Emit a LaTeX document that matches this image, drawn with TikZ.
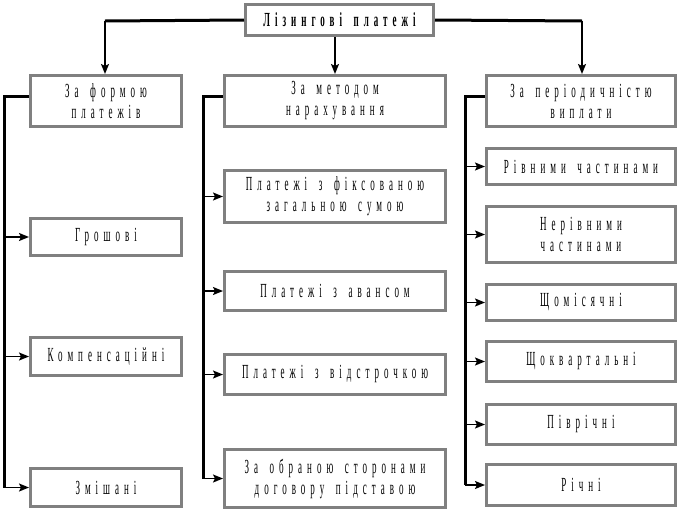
\documentclass[tikz,border=0pt]{standalone}
\usepackage{fontspec}
\setmainfont{Liberation Serif}[FakeStretch=0.45,LetterSpace=25,WordSpace=1.6]
\newfontfamily\titlefont{Liberation Serif Bold}[FakeStretch=0.45,LetterSpace=25,WordSpace=1.6]
\usetikzlibrary{arrows.meta}

\begin{document}
\begin{tikzpicture}[x=1pt,y=-1pt,
    box/.style={draw=gray,line width=3pt,fill=white,align=center,inner sep=0,
      font=\fontsize{20}{21}\selectfont},
    lbox/.style={box,minimum width=151pt},
    mbox/.style={box,minimum width=221pt},
    rbox/.style={box,minimum width=189pt},
    bus/.style={line width=3pt},
    arr/.style={line width=1.6pt,-{Stealth[length=10pt,width=8pt,inset=2pt]}}]
  \useasboundingbox (0,0) rectangle (681,512);
  % top and second row
  \node[box,minimum width=188pt,minimum height=31pt,font=\titlefont\fontsize{20}{21}\selectfont] (lease) at (339.5,20) {Лізингові платежі};
  \node[lbox,minimum height=51pt] (form) at (106,101) {За формою\\платежів};
  \node[mbox,minimum height=51pt] (method) at (335,101) {За методом\\нарахування};
  \node[rbox,minimum height=51pt] (period) at (581,101) {За періодичністю\\виплати};
  % left column
  \node[lbox,minimum height=37pt] (cash) at (106,237) {Грошові};
  \node[lbox,minimum height=38pt] (comp) at (106,356.5) {Компенсаційні};
  \node[lbox,minimum height=38pt] (mixed) at (106,487.5) {Змішані};
  % middle column
  \node[mbox,minimum height=52pt] (fixed) at (335,196.5) {Платежі з фіксованою\\загальною сумою};
  \node[mbox,minimum height=39pt] (advance) at (335,291) {Платежі з авансом};
  \node[mbox,minimum height=40pt] (deferred) at (335,374.5) {Платежі з відстрочкою};
  \node[mbox,minimum height=58pt] (chosen) at (335,478.5) {За обраною сторонами\\договору підставою};
  % right column
  \node[rbox,minimum height=36pt] (equal) at (581,166.5) {Рівними частинами};
  \node[rbox,minimum height=56pt] (unequal) at (581,234.5) {Нерівними\\частинами};
  \node[rbox,minimum height=36pt] (monthly) at (581,302.5) {Щомісячні};
  \node[rbox,minimum height=40pt] (quarterly) at (581,361.5) {Щоквартальні};
  \node[rbox,minimum height=40pt] (halfyear) at (581,424.5) {Піврічні};
  \node[rbox,minimum height=41pt] (yearly) at (581,485) {Річні};
  % connectors from the top
  \coordinate (tl) at (105,21);
  \coordinate (tr) at (582,21);
  \draw[bus] (lease.west) -- (tl);
  \draw[bus] (lease.east) -- (tr);
  \draw[arr] (tl) -- (tl |- form.north);
  \draw[arr] (method.north |- lease.south) -- (method.north);
  \draw[arr] (tr) -- (tr |- period.north);
  % buses
  \coordinate (lb) at (4,96);
  \coordinate (mb) at (203,96);
  \coordinate (rb) at (465,96);
  \draw[bus] (form.west |- lb) -- (lb) -- (lb |- mixed.west);
  \draw[bus] (method.west |- mb) -- (mb) -- (mb |- chosen.west);
  \draw[bus] (period.west |- rb) -- (rb) -- (rb |- yearly.west);
  \foreach \n in {cash,comp,mixed} \draw[arr] (lb |- \n.west) -- (\n.west);
  \foreach \n in {fixed,advance,deferred,chosen} \draw[arr] (mb |- \n.west) -- (\n.west);
  \foreach \n in {equal,unequal,monthly,quarterly,halfyear,yearly} \draw[arr] (rb |- \n.west) -- (\n.west);
\end{tikzpicture}
\end{document}
